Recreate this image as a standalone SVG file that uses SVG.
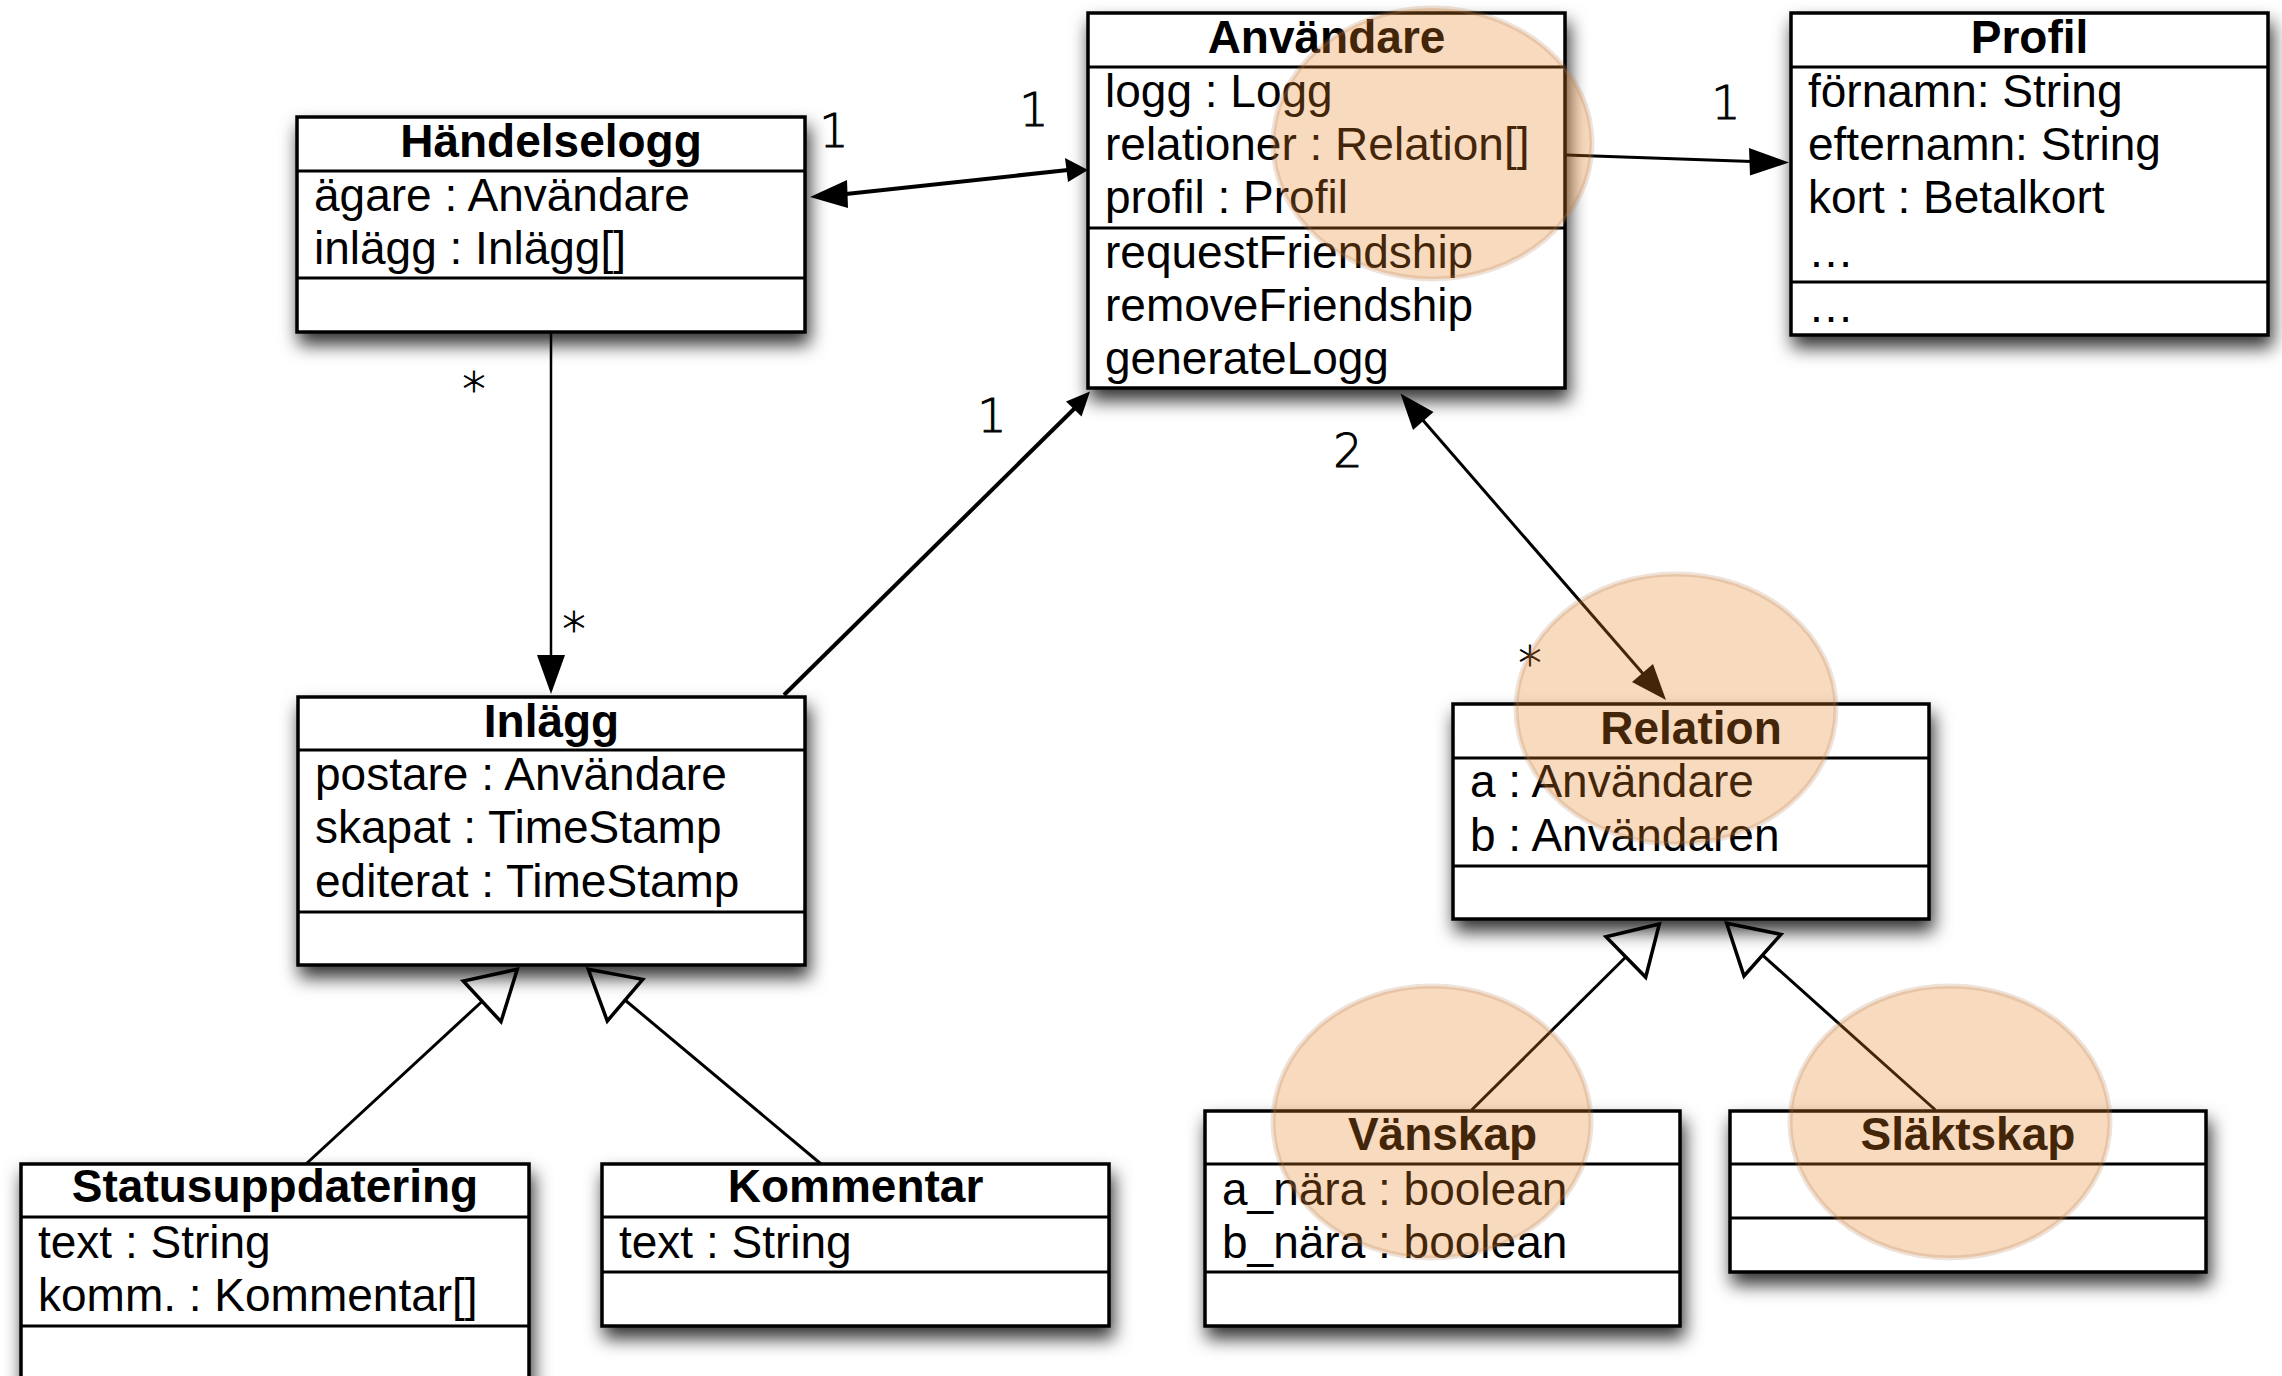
<svg xmlns="http://www.w3.org/2000/svg" width="2282" height="1376" viewBox="0 0 2282 1376">
  <defs>
    <filter id="shadow" x="-10%" y="-15%" width="125%" height="150%">
      <feDropShadow dx="3" dy="11" stdDeviation="9" flood-color="#000" flood-opacity="0.8"/>
    </filter>
    <style>
      .box { fill: #fff; stroke: #000; stroke-width: 3.5; }
      .div { stroke: #000; stroke-width: 3; }
      .t { font-family: "Liberation Sans", Arial, Helvetica, sans-serif; font-size: 46px; fill: #000; }
      .h { font-weight: bold; text-anchor: middle; }
      .m { font-family: "DejaVu Sans", sans-serif; font-size: 46px; font-weight: 200; fill: #000; stroke: #000; stroke-width: 0.9; text-anchor: middle; }
      .ln { stroke: #000; fill: none; }
      .ah { fill: #000; stroke: none; }
      .gen { fill: none; stroke: #000; stroke-width: 3.5; stroke-linejoin: miter; }
      .hl { fill: #E8801F; fill-opacity: 0.29; stroke: #B07A50; stroke-opacity: 0.22; stroke-width: 5; }
    </style>
  </defs>

  <rect width="2282" height="1376" fill="#fff"/>

  <!-- Class nodes -->
  <g id="handelselogg">
    <rect class="box" x="297" y="117" width="508" height="215" filter="url(#shadow)"/>
    <line class="div" x1="297" y1="171" x2="805" y2="171"/>
    <line class="div" x1="297" y1="278" x2="805" y2="278"/>
    <text class="t h" x="551" y="157">Händelselogg</text>
    <text class="t" x="314" y="211">ägare : Användare</text>
    <text class="t" x="314" y="264">inlägg : Inlägg[]</text>
  </g>

  <g id="anvandare">
    <rect class="box" x="1088" y="13" width="477" height="375" filter="url(#shadow)"/>
    <line class="div" x1="1088" y1="67" x2="1565" y2="67"/>
    <line class="div" x1="1088" y1="228" x2="1565" y2="228"/>
    <text class="t h" x="1326.5" y="53">Användare</text>
    <text class="t" x="1105" y="107">logg : Logg</text>
    <text class="t" x="1105" y="160">relationer : Relation[]</text>
    <text class="t" x="1105" y="213">profil : Profil</text>
    <text class="t" x="1105" y="268">requestFriendship</text>
    <text class="t" x="1105" y="321">removeFriendship</text>
    <text class="t" x="1105" y="374">generateLogg</text>
  </g>

  <g id="profil">
    <rect class="box" x="1791" y="13" width="477" height="322" filter="url(#shadow)"/>
    <line class="div" x1="1791" y1="67" x2="2268" y2="67"/>
    <line class="div" x1="1791" y1="282" x2="2268" y2="282"/>
    <text class="t h" x="2029.5" y="53">Profil</text>
    <text class="t" x="1808" y="107">förnamn: String</text>
    <text class="t" x="1808" y="160">efternamn: String</text>
    <text class="t" x="1808" y="213">kort : Betalkort</text>
    <text class="t" x="1808" y="267">…</text>
    <text class="t" x="1808" y="322">…</text>
  </g>

  <g id="inlagg">
    <rect class="box" x="298" y="697" width="507" height="268" filter="url(#shadow)"/>
    <line class="div" x1="298" y1="750" x2="805" y2="750"/>
    <line class="div" x1="298" y1="912" x2="805" y2="912"/>
    <text class="t h" x="551.5" y="737">Inlägg</text>
    <text class="t" x="315" y="790">postare : Användare</text>
    <text class="t" x="315" y="843">skapat : TimeStamp</text>
    <text class="t" x="315" y="897">editerat : TimeStamp</text>
  </g>

  <g id="relation">
    <rect class="box" x="1453" y="704" width="476" height="215" filter="url(#shadow)"/>
    <line class="div" x1="1453" y1="758" x2="1929" y2="758"/>
    <line class="div" x1="1453" y1="866" x2="1929" y2="866"/>
    <text class="t h" x="1691" y="744">Relation</text>
    <text class="t" x="1470" y="797">a : Användare</text>
    <text class="t" x="1470" y="851">b : Användaren</text>
  </g>

  <g id="statusuppdatering">
    <rect class="box" x="21" y="1164" width="508" height="240" filter="url(#shadow)"/>
    <line class="div" x1="21" y1="1217" x2="529" y2="1217"/>
    <line class="div" x1="21" y1="1326" x2="529" y2="1326"/>
    <text class="t h" x="275" y="1202">Statusuppdatering</text>
    <text class="t" x="38" y="1258">text : String</text>
    <text class="t" x="38" y="1311">komm. : Kommentar[]</text>
  </g>

  <g id="kommentar">
    <rect class="box" x="602" y="1164" width="507" height="162" filter="url(#shadow)"/>
    <line class="div" x1="602" y1="1217" x2="1109" y2="1217"/>
    <line class="div" x1="602" y1="1272" x2="1109" y2="1272"/>
    <text class="t h" x="855.5" y="1202">Kommentar</text>
    <text class="t" x="619" y="1258">text : String</text>
  </g>

  <g id="vanskap">
    <rect class="box" x="1205" y="1111" width="475" height="215" filter="url(#shadow)"/>
    <line class="div" x1="1205" y1="1164" x2="1680" y2="1164"/>
    <line class="div" x1="1205" y1="1272" x2="1680" y2="1272"/>
    <text class="t h" x="1442.5" y="1150">Vänskap</text>
    <text class="t" x="1222" y="1205">a_nära : boolean</text>
    <text class="t" x="1222" y="1258">b_nära : boolean</text>
  </g>

  <g id="slaktskap">
    <rect class="box" x="1730" y="1111" width="476" height="161" filter="url(#shadow)"/>
    <line class="div" x1="1730" y1="1164" x2="2206" y2="1164"/>
    <line class="div" x1="1730" y1="1218" x2="2206" y2="1218"/>
    <text class="t h" x="1968" y="1150">Släktskap</text>
  </g>

  <!-- Associations and generalisations -->
  <g id="connectors">
    <!-- Händelselogg <-> Användare -->
    <line class="ln" x1="846" y1="194" x2="1068" y2="170" stroke-width="4"/>
    <polygon class="ah" points="810,197 847,180 848,208"/>
    <polygon class="ah" points="1088,170 1065,158 1068,182"/>

    <!-- Användare -> Profil -->
    <line class="ln" x1="1566" y1="155" x2="1752" y2="161.5" stroke-width="3"/>
    <polygon class="ah" points="1789,162.5 1749,148 1750,175.5"/>

    <!-- Händelselogg -> Inlägg -->
    <line class="ln" x1="551" y1="332" x2="551" y2="658" stroke-width="2.5"/>
    <polygon class="ah" points="551,694 537,655 565,655"/>

    <!-- Inlägg -> Användare -->
    <line class="ln" x1="784" y1="695" x2="1076" y2="407" stroke-width="4"/>
    <polygon class="ah" points="1090,391.5 1066,401.5 1081.5,416.5"/>

    <!-- Användare <-> Relation -->
    <line class="ln" x1="1421" y1="418" x2="1645" y2="676" stroke-width="3"/>
    <polygon class="ah" points="1400.5,393.5 1433.5,412 1413,430"/>
    <polygon class="ah" points="1666,700 1632,682 1653,664"/>

    <!-- Statusuppdatering -> Inlägg -->
    <line class="ln" x1="306" y1="1164" x2="482" y2="1001.5" stroke-width="3"/>
    <polygon class="gen" points="517.3,969.3 463.3,981 501,1021.7"/>

    <!-- Kommentar -> Inlägg -->
    <line class="ln" x1="821" y1="1164" x2="625" y2="1000" stroke-width="3"/>
    <polygon class="gen" points="588.3,969.3 642.7,979.3 607.3,1021"/>

    <!-- Vänskap -> Relation -->
    <line class="ln" x1="1471.6" y1="1110" x2="1625.8" y2="957" stroke-width="3"/>
    <polygon class="gen" points="1659.3,924 1606,936.7 1645.7,977.3"/>

    <!-- Släktskap -> Relation -->
    <line class="ln" x1="1935.4" y1="1110" x2="1762.5" y2="955.2" stroke-width="3"/>
    <polygon class="gen" points="1726.7,923.3 1781,934.3 1744,976"/>
  </g>

  <!-- Multiplicities -->
  <g id="multiplicities">
    <text class="m" x="834" y="147">1</text>
    <text class="m" x="1034" y="126">1</text>
    <text class="m" x="1726" y="119">1</text>
    <text class="m" x="992" y="432">1</text>
    <text class="m" x="1348" y="467">2</text>
    <text class="m" x="474" y="405">*</text>
    <text class="m" x="574" y="645">*</text>
    <text class="m" x="1530" y="679">*</text>
  </g>

  <!-- Highlight markers -->
  <g id="highlights">
    <ellipse class="hl" cx="1432.5" cy="143.5" rx="159.5" ry="135.5"/>
    <ellipse class="hl" cx="1676" cy="709" rx="160" ry="135"/>
    <ellipse class="hl" cx="1432" cy="1122" rx="159" ry="136"/>
    <ellipse class="hl" cx="1950" cy="1122" rx="160" ry="136"/>
  </g>
</svg>
